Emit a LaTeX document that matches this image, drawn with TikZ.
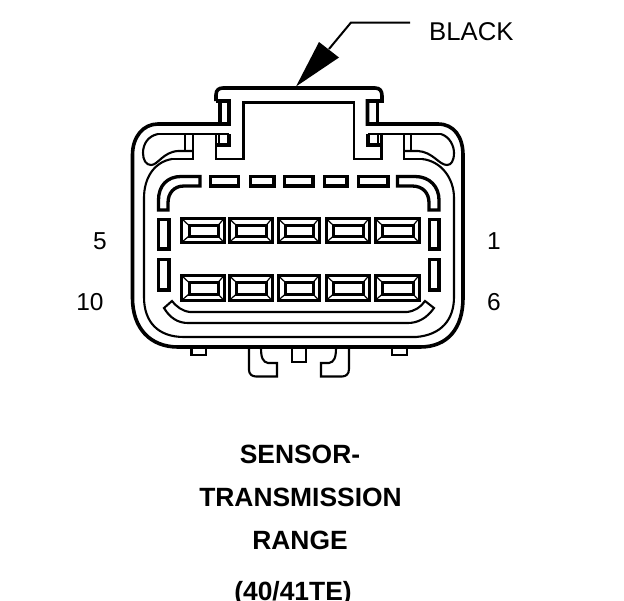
\documentclass[tikz,border=0pt]{standalone}
\usepackage{fontspec}
\setmainfont{Liberation Sans}
\tikzset{
  heavy/.style={line width=3.6pt,line join=miter},
  slot/.style={line width=3.3pt},
  fine/.style={line width=2.1pt},
  termline/.style={line width=3pt},
  mitre/.style={line width=1.2pt},
  callout/.style={font=\fontsize{25.7}{26}\selectfont,anchor=base west,inner sep=0pt},
  pinlabel/.style={font=\fontsize{24.5}{25}\selectfont,anchor=base,inner sep=0pt},
  titletext/.style={font=\fontsize{26.4}{27}\selectfont\bfseries,anchor=base,inner sep=0pt}
}
\begin{document}
\begin{tikzpicture}[x=1pt,y=-1pt]
\useasboundingbox (0,0) rectangle (624,600);
\fill[white] (0,0) rectangle (624,600);
% outer housing
\draw[heavy] (216,101) -- (216,95) .. controls (216,90) and (219,88) .. (223,88)
  -- (375,88) .. controls (380,88) and (382,91) .. (382,96) -- (382,101) -- (367.5,101) -- (367.5,124)
  -- (438,124) .. controls (454,124) and (463,137) .. (463,155)
  -- (463,298) .. controls (463,328) and (448,347) .. (420,347)
  -- (178,347) .. controls (150,347) and (132.5,328) .. (132.5,298)
  -- (132.5,155) .. controls (132.5,137) and (143,124) .. (158,124)
  -- (229,124) -- (229,101) -- (216,101);
\draw[heavy] (220,101) -- (220,124);
\draw[fine] (377.5,101) -- (377.5,124);
% tab cavity
\draw[fine] (216,134) -- (216,159) -- (243.5,159) -- (243.5,102.5) -- (354,102.5) -- (354,159) -- (381.5,159) -- (381.5,134);
\draw[fine] (158,134) -- (229,134);
\draw[fine] (368,134) -- (441,134);
\draw[heavy] (216,145) -- (229,145) -- (229,134);
\draw[fine] (219,134) -- (219,145);
\draw[heavy] (381,145) -- (368,145) -- (368,134);
\draw[fine] (378,134) -- (378,145);
% left pocket
\draw[fine] (158,134) .. controls (148,136) and (143,144) .. (143,153) .. controls (143,160) and (146,165) .. (151,165)
  .. controls (158,165) and (163,152) .. (178,151) -- (193,151);
\draw[fine] (185,134) -- (185,151);
\draw[fine] (193,134) -- (193,159) -- (172,159);
% right pocket
\draw[fine] (441,134) .. controls (450,137) and (454,146) .. (454,153) .. controls (454,161) and (451,165) .. (447,165)
  .. controls (439,165) and (433,152) .. (418,151) -- (403,151);
\draw[fine] (411,134) -- (411,151);
\draw[fine] (404,134) -- (404,159) -- (422,159);
% inner seal line
\draw[fine] (172,159) .. controls (154,162) and (144,178) .. (144,198) -- (144,297)
  .. controls (144,322) and (158,337) .. (184,337) -- (416,337)
  .. controls (441,335) and (454,320) .. (454,297) -- (454,198)
  .. controls (454,178) and (441,161) .. (422,159);
% top slots
\foreach \xa/\xb in {210.5/238.5,250.5/274,284.5/313,324.5/347,358.5/388}
  \draw[slot] (\xa,176.5) rectangle (\xb,186);
\draw[slot] (200,176.5) -- (181,176.5) .. controls (167,176.5) and (158.5,186) .. (158.5,200) -- (158.5,210) -- (168,210) -- (168,203)
  .. controls (168,193) and (174,186) .. (184,186) -- (200,186) -- cycle;
\draw[slot] (397.5,176.5) -- (415,176.5) .. controls (430,176.5) and (439,187) .. (439,200) -- (439,210) -- (429,210) -- (429,203)
  .. controls (429,193) and (423,186) .. (412,186) -- (397.5,186) -- cycle;
% side slots
\foreach \xa/\xb in {158.5/169,429.5/439}{
  \draw[slot] (\xa,219.5) rectangle (\xb,249);
  \draw[slot] (\xa,259.5) rectangle (\xb,290);
}
% terminals
\foreach \xa/\xb in {181.5/224,229/272,278/319,326/369,375/419}
  \foreach \ya/\yb in {218.5/242.5,275.5/300.5}{
    \draw[termline] (\xa,\ya) rectangle (\xb,\yb);
    \draw[termline] (\xa+7.5,\ya+7) rectangle (\xb-6,\yb-6.5);
    \draw[mitre] (\xa,\ya) -- (\xa+7.5,\ya+7);
    \draw[mitre] (\xb,\ya) -- (\xb-6,\ya+7);
    \draw[mitre] (\xa,\yb) -- (\xa+7.5,\yb-6.5);
    \draw[mitre] (\xb,\yb) -- (\xb-6,\yb-6.5);
  }
% lower seal
\draw[fine] (172,301) .. controls (177,307) and (182,311) .. (190,312) -- (407,312)
  .. controls (415,311) and (421,307) .. (425,301) -- (434,308)
  .. controls (427,318) and (418,323) .. (408,323) -- (188,323)
  .. controls (178,323) and (170,318) .. (164,308) -- cycle;
% bottom tabs
\draw[fine] (191.5,348) -- (191.5,355) -- (206,355) -- (206,348);
\draw[fine] (392,348) -- (392,355) -- (407,355) -- (407,348);
\draw[fine] (292,348) -- (292,362) -- (306,362) -- (306,348);
\draw[fine] (249,348) -- (249,370) .. controls (249,374) and (252,376.5) .. (256,376.5) -- (277,376.5) -- (277,363) -- (268,363)
  .. controls (263,362) and (261,358) .. (261,348);
\draw[fine] (349,348) -- (349,369) .. controls (349,374) and (346,376.5) .. (342,376.5) -- (321,376.5) -- (321,363) -- (329,363)
  .. controls (334,362) and (336,358) .. (336,348);
% callout
\node[callout] (black) at (429,40) {BLACK};
\coordinate (leaderend) at (410,22.5);
\coordinate (leaderbend) at (351,22.5);
\coordinate (leaderfoot) at (329,49);
\draw[line width=2pt] (leaderend) -- (leaderbend) -- (leaderfoot);
\fill (296,86.5) -- (319,42) -- (339,57.5) -- cycle;
% pin numbers
\node[pinlabel] (p5) at (100,249.5) {5};
\node[pinlabel] (p1) at (494,249.5) {1};
\node[pinlabel] (p10) at (90,310) {10};
\node[pinlabel] (p6) at (494,310) {6};
% title
\node[titletext] (t1) at (300,463) {SENSOR-};
\node[titletext] (t2) at (300.5,506) {TRANSMISSION};
\node[titletext] (t3) at (300,549) {RANGE};
\node[titletext] (t4) at (293,600) {(40/41TE)};
\end{tikzpicture}
\end{document}
